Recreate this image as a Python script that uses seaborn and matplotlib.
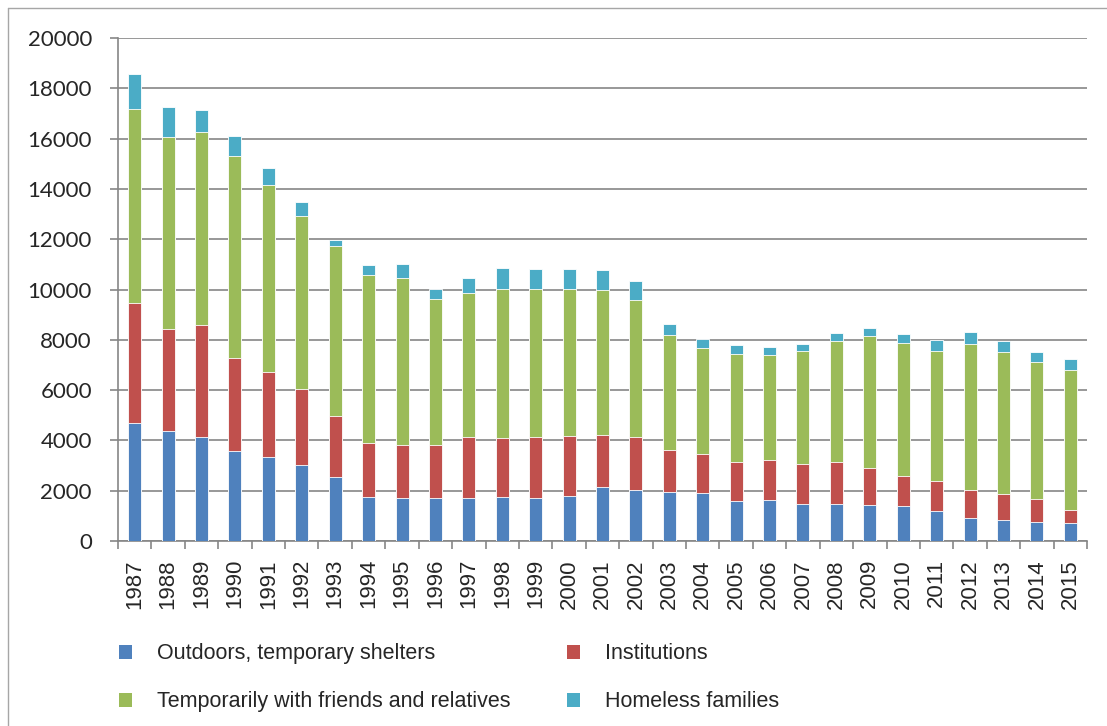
import matplotlib
matplotlib.use('Agg')
import matplotlib.pyplot as plt
from matplotlib.lines import Line2D
from matplotlib.patches import Patch
import numpy as np
import pandas as pd
import seaborn as sns

# Homeless people by type of housing situation, 1987-2015.
years = [str(y) for y in range(1987, 2016)]

outdoors = [4690, 4390, 4150, 3590, 3350, 3010, 2550, 1730, 1690, 1710,
            1710, 1750, 1720, 1770, 2130, 2040, 1960, 1890, 1590, 1630,
            1470, 1490, 1430, 1400, 1200, 930, 850, 750, 730]
institutions = [4790, 4020, 4420, 3700, 3360, 3040, 2420, 2180, 2110, 2100,
                2440, 2340, 2410, 2420, 2090, 2080, 1650, 1550, 1570, 1580,
                1580, 1640, 1490, 1170, 1170, 1100, 1000, 920, 520]
friends = [7710, 7660, 7710, 8030, 7440, 6870, 6740, 6680, 6670, 5830,
           5700, 5920, 5880, 5820, 5760, 5470, 4590, 4230, 4270, 4190,
           4500, 4830, 5240, 5320, 5200, 5820, 5670, 5440, 5540]
families = [1370, 1200, 840, 800, 700, 570, 250, 370, 560, 370,
            590, 830, 790, 800, 780, 760, 410, 360, 370, 310,
            290, 320, 320, 350, 430, 470, 430, 420, 440]

series_names = ['Outdoors, temporary shelters', 'Institutions',
                'Temporarily with friends and relatives', 'Homeless families']
series_colors = ['#4F81BD', '#C0504D', '#9BBB59', '#4BACC6']

df = pd.DataFrame({'year': years,
                   series_names[0]: outdoors,
                   series_names[1]: institutions,
                   series_names[2]: friends,
                   series_names[3]: families})

# Cumulative totals so the layers can be drawn tallest first.
cum = df[series_names].cumsum(axis=1)

sns.set_style('white')
plt.rcParams['font.family'] = ['Liberation Sans', 'DejaVu Sans']

fig = plt.figure(figsize=(11.07, 7.26), dpi=100)
ax = fig.add_axes([118 / 1107, 1 - 541 / 726, (1087 - 118) / 1107, (541 - 38) / 726])

grid_col = '#868686'
for name, col in zip(series_names[::-1], series_colors[::-1]):
    sns.barplot(x=df['year'], y=cum[name], color=col, saturation=1,
                width=0.39, edgecolor='white', linewidth=0.6, ax=ax, zorder=3)

ax.set_xlim(-0.5, len(years) - 0.5)
ax.set_ylim(0, 20000)
ax.set_yticks(np.arange(0, 20001, 2000))
ax.set_yticklabels([str(v) for v in range(0, 20001, 2000)],
                   fontfamily=['Lato', 'DejaVu Sans'], fontsize=16)
ax.yaxis.grid(True, color=grid_col, linewidth=1.2, zorder=0)
ax.set_axisbelow(True)
ax.set_xlabel('')
ax.set_ylabel('')

ax.set_xticks(range(len(years)))
ax.set_xticklabels(years, rotation=90, fontsize=16)
ax.set_xticks(np.arange(-0.5, len(years), 1), minor=True)
ax.tick_params(axis='x', which='major', length=0, pad=13)
ax.tick_params(axis='x', which='minor', length=5.5, width=1.2, color=grid_col,
               direction='out', bottom=True)
ax.tick_params(axis='y', length=5.8, width=1.2, color=grid_col, pad=13,
               direction='out', left=True)

for side in ['top', 'right']:
    ax.spines[side].set_visible(False)
for side in ['left', 'bottom']:
    ax.spines[side].set_color(grid_col)
    ax.spines[side].set_linewidth(1.2)

# Legend: two columns under the axis labels.
handles = [Patch(facecolor=c, edgecolor='none') for c in series_colors]
order = [0, 2, 1, 3]
fig.legend([handles[i] for i in order], [series_names[i] for i in order],
           ncol=2, frameon=False, fontsize=15.5,
           loc='upper left', bbox_to_anchor=(100 / 1107, 1 - 624 / 726),
           handlelength=0.6, handleheight=0.6, handletextpad=1.16,
           columnspacing=2.6, labelspacing=1.25)

# Chart area frame (left and top edges visible).
frame_col = '#a6a6a6'
fig.add_artist(Line2D([8 / 1107, 1], [1 - 8 / 726, 1 - 8 / 726],
                      color=frame_col, linewidth=1.0))
fig.add_artist(Line2D([8 / 1107, 8 / 1107], [0, 1 - 8 / 726],
                      color=frame_col, linewidth=1.0))

fig.savefig('out.png', dpi=100)
